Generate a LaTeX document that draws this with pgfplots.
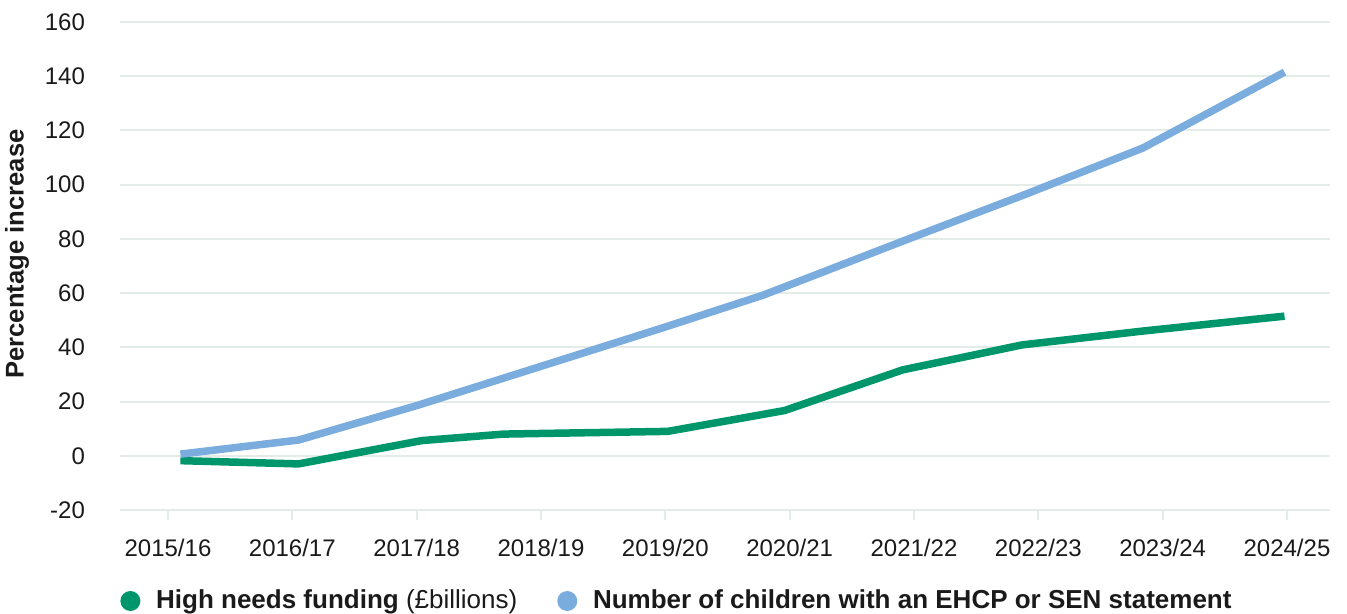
\documentclass[border=0pt]{standalone}
\usepackage{pgfplots}
\pgfplotsset{compat=1.18}
\usepackage{fontspec}
\setmainfont{Liberation Sans}
\definecolor{hgreen}{RGB}{0,150,108}
\definecolor{hblue}{RGB}{122,173,222}
\definecolor{gridc}{RGB}{228,236,232}
\definecolor{txt}{RGB}{26,26,26}
\begin{document}
\begin{tikzpicture}
\begin{axis}[
  scale only axis,
  width=605pt, height=244pt,
  xmin=-0.386, xmax=9.346,
  ymin=-20, ymax=160,
  xtick={0,1,2,3,4,5,6,7,8,9},
  xticklabels={2015/16,2016/17,2017/18,2018/19,2019/20,2020/21,2021/22,2022/23,2023/24,2024/25},
  ytick={-20,0,20,40,60,80,100,120,140,160},
  /pgf/number format/assume math mode=true,
  axis line style={draw=none},
  xtick pos=bottom, ytick pos=left,
  tick align=outside,
  major tick length=5pt,
  xtick style={gridc, line width=1pt},
  ytick style={draw=none},
  ymajorgrids,
  grid style={gridc, line width=1pt},
  tick label style={font=\fontsize{12}{14}\selectfont, text=txt},
  xticklabel style={yshift=-6pt},
  yticklabel style={xshift=-9pt},
  ylabel={Percentage increase},
  every axis y label/.style={at={(axis description cs:-0.0851,0.5246)}, rotate=90, anchor=center, font=\bfseries\fontsize{12.8}{15}\selectfont, text=txt},
  legend style={at={(axis description cs:0,-0.1865)}, anchor=west, draw=none, fill=none, inner sep=0pt,
    font=\fontsize{13}{15}\selectfont, text=txt,
    /tikz/every even column/.append style={column sep=18pt}},
  legend columns=2,
  legend cell align=left,
  legend image code/.code={\fill[#1, draw=none] (5pt,0) circle (5pt); \path (14pt,0);},
]
\addplot[hgreen, line width=3.75pt, line join=round] coordinates {
 (0.10,-1.8) (1.05,-3.0) (2.04,5.6) (2.70,8.0) (4.02,9.0) (4.96,16.7) (5.91,31.7) (6.87,40.9) (7.84,46.0) (8.98,51.5)};
\addlegendentry{\textbf{High needs funding} (£billions)}
\addplot[hblue, line width=3.75pt, line join=round] coordinates {
 (0.10,0.6) (1.05,5.8) (2.0,18.5) (3.0,33) (4.0,47.5) (4.79,59.3) (5.9,79) (6.9,96.5) (7.84,113.5) (8.98,141.5)};
\addlegendentry{\textbf{Number of children with an EHCP or SEN statement}}
\end{axis}
\pgfresetboundingbox
\path ([shift={(-60pt,-52pt)}]current axis.south west) rectangle ([shift={(8.5pt,11pt)}]current axis.north east);
\end{tikzpicture}
\end{document}
